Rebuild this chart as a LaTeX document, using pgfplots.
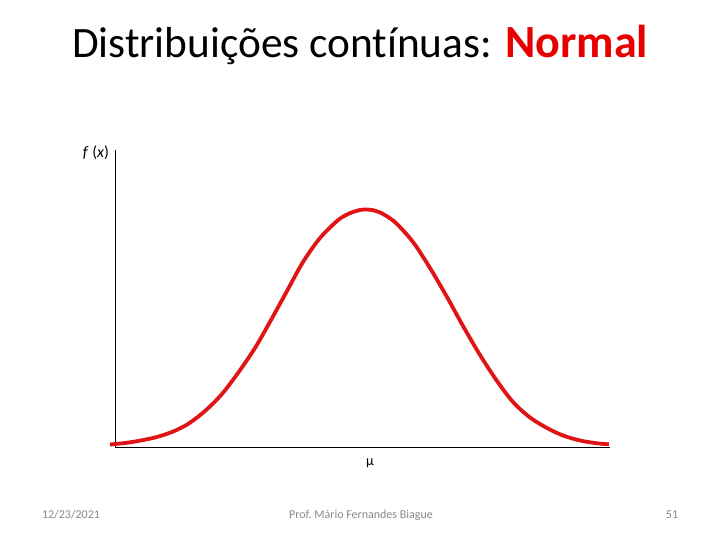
\documentclass[border=0pt]{standalone}
\usepackage{pgfplots}
\pgfplotsset{compat=1.18}
\usepackage{fontspec}
\setmainfont{Carlito}[Ligatures={TeX,NoCommon}]
\definecolor{curvered}{RGB}{224,20,20}
\definecolor{titlered}{RGB}{232,0,0}
\definecolor{footgray}{RGB}{137,137,137}
\begin{document}
\begin{tikzpicture}[x=1pt,y=1pt]
\fill[white] (0,0) rectangle (720,540);
\node[anchor=base west, inner sep=0pt] at (72,482) {\resizebox{420pt}{!}{\fontsize{44}{50}\selectfont Distribuições contínuas:}};
\node[anchor=base west, inner sep=0pt, text=titlered] at (505,482) {\resizebox{143pt}{!}{\fontsize{44}{50}\selectfont\bfseries Normal}};
\begin{axis}[
  at={(115pt,93pt)}, anchor=south west,
  scale only axis, width=495pt, height=297pt,
  xmin=115, xmax=610, ymin=0, ymax=297,
  axis lines=left, axis line style={-, black, line width=0.9pt},
  xtick=\empty, ytick=\empty,
  clip=false,
]
\addplot[curvered, line width=3.8pt, smooth, line cap=butt] coordinates {
(110,2.5) (125,4) (138,6) (155,9.5) (172,15) (188,23) (205,36) (222,53)
(238,74) (255,99) (271,127) (287,156) (303,185) (320,209) (337,226) (346,232) (353,235)
(360,237) (366,237.5) (373,236.8) (380,234.5) (388,230) (397,223) (413,205) (430,179) (447,150) (463,121)
(480,92) (497,66) (513,45) (530,29.5) (547,19) (563,11.5) (580,6.5) (597,3.7) (609,2.7)
};
\end{axis}
\node[inner sep=0pt] at (96,387) {\fontsize{16}{18}\selectfont\textit{f} (\textit{x})};
\node[inner sep=0pt] at (370,77) {\fontsize{14}{16}\selectfont μ};
\node[inner sep=0pt, text=footgray] at (71,25) {\fontsize{12}{14}\selectfont 12/23/2021};
\node[inner sep=0pt, text=footgray] at (361,25) {\fontsize{12}{14}\selectfont Prof.\ Mário Fernandes Biague};
\node[inner sep=0pt, text=footgray] at (672,25) {\fontsize{12}{14}\selectfont 51};
\end{tikzpicture}
\end{document}
